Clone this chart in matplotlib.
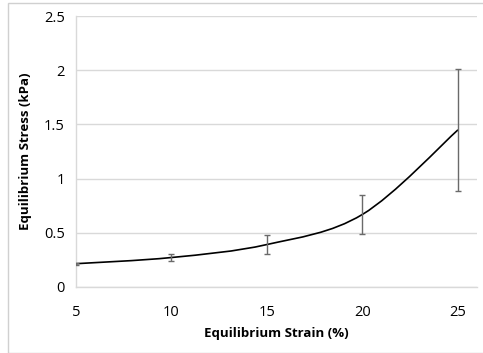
import numpy as np
import matplotlib.pyplot as plt
from matplotlib.path import Path
from matplotlib.patches import PathPatch, Rectangle

strain = [5, 10, 15, 20, 25]
stress = [0.215, 0.272, 0.392, 0.670, 1.450]
stress_err = [0.01, 0.032, 0.087, 0.18, 0.56]
x_ticks = [5, 10, 15, 20, 25]
y_ticks = [0, 0.5, 1, 1.5, 2, 2.5]
y_tick_labels = ["0", "0.5", "1", "1.5", "2", "2.5"]

GRID = "#d9d9d9"
plt.rcParams['font.family'] = ['Open Sans', 'DejaVu Sans']

fig = plt.figure(figsize=(4.83, 3.53), dpi=100)
fig.patches.append(Rectangle((8 / 483, 0), 1, 1 - 3 / 353, transform=fig.transFigure,
                             fill=False, edgecolor="#d0d0d0", linewidth=1))
ax = fig.add_axes([76 / 483, 1 - 287 / 353, (477 - 76) / 483, (287 - 16) / 353])

ax.set_xlim(5, 5 + 20 * (477 - 76) / (458 - 76))
ax.set_ylim(0, 2.5)
ax.set_yticks(y_ticks)
ax.set_yticklabels(y_tick_labels)
ax.set_xticks(x_ticks)
ax.grid(axis="y", color=GRID, linewidth=1)
ax.set_axisbelow(True)
for side in ["top", "right"]:
    ax.spines[side].set_visible(False)
for side in ["left", "bottom"]:
    ax.spines[side].set_color(GRID)
    ax.spines[side].set_linewidth(1)
ax.tick_params(length=0, labelsize=10.5, colors="black", pad=8)
ax.tick_params(axis="x", pad=13)

# smoothed line (Catmull-Rom converted to cubic bezier segments)
xs = np.array(strain, dtype=float)
ys = np.array(stress, dtype=float)
verts = [(xs[0], ys[0])]
codes = [Path.MOVETO]
n = len(xs)
for i in range(n - 1):
    p0 = (xs[max(i - 1, 0)], ys[max(i - 1, 0)])
    p1 = (xs[i], ys[i])
    p2 = (xs[i + 1], ys[i + 1])
    p3 = (xs[min(i + 2, n - 1)], ys[min(i + 2, n - 1)])
    c1 = (p1[0] + (p2[0] - p0[0]) / 6, p1[1] + (p2[1] - p0[1]) / 6)
    c2 = (p2[0] - (p3[0] - p1[0]) / 6, p2[1] - (p3[1] - p1[1]) / 6)
    verts += [c1, c2, p2]
    codes += [Path.CURVE4] * 3
ax.add_patch(PathPatch(Path(verts, codes), fill=False, edgecolor="black", linewidth=1.2, zorder=3))

ax.errorbar(strain, stress, yerr=stress_err, fmt="none", ecolor="#6a6a6a",
            elinewidth=1, capsize=2.5, capthick=1, zorder=4)

ax.set_xlabel("Equilibrium Strain (%)", fontsize=9.5, fontweight="bold", labelpad=5)
ax.set_ylabel("Equilibrium Stress (kPa)", fontsize=9.5, fontweight="bold", labelpad=9)

fig.savefig("out.png", dpi=100)
